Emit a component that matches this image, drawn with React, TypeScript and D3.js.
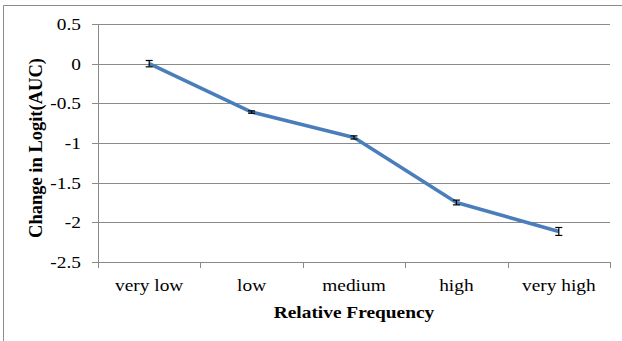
import React from 'react';
import * as d3 from 'd3';

// Chart data
const categories = ['very low', 'low', 'medium', 'high', 'very high'];
const values = [0, -0.61, -0.93, -1.75, -2.115];
const errors = [0.04, 0.015, 0.02, 0.03, 0.05];
const yTicks = [0.5, 0, -0.5, -1, -1.5, -2, -2.5];

const width = 622;
const height = 341;
const margin = { top: 24, right: 12, bottom: 79, left: 98 };
const font = "'Liberation Serif', 'Times New Roman', serif";
// the reference text is a bit wider than it is tall
const stretch = 'scale(1.14,1)';

function App() {
  const innerWidth = width - margin.left - margin.right;
  const innerHeight = height - margin.top - margin.bottom;

  const x = d3.scaleBand<string>().domain(categories).range([0, innerWidth]);
  const y = d3.scaleLinear().domain([-2.5, 0.5]).range([innerHeight, 0]);

  const line = d3.line<number>()
    .x((_, i) => x(categories[i])! + x.bandwidth() / 2)
    .y(d => y(d));

  const txt = { fontFamily: font, fill: '#000' };

  return (
    <svg width={width} height={height} style={{ position: 'absolute', left: 0, top: 0 }}>
      <rect x={0} y={0} width={width} height={height} fill="white" />
      {/* outer chart border */}
      <path d={`M3.5,${height}V5.5H${width}`} fill="none" stroke="#8c8c8c" strokeWidth={1} />
      <g transform={`translate(${margin.left},${margin.top})`}>
        {/* gridlines + y ticks */}
        {yTicks.map(t => (
          <g key={t} transform={`translate(0,${Math.round(y(t)) + 0.5})`}>
            <line x1={-6} x2={innerWidth} stroke="#8a8a8a" strokeWidth={1} />
            <text transform={`translate(-17,0) ${stretch}`} dy="0.35em" textAnchor="end" fontSize={17} style={txt}>{t}</text>
          </g>
        ))}
        {/* y axis line */}
        <line x1={0.5} x2={0.5} y1={0} y2={innerHeight} stroke="#8a8a8a" />
        {/* x ticks */}
        {[...categories.map(c => x(c)!), innerWidth].map((px, i) => (
          <line key={i} x1={Math.round(px) + 0.5} x2={Math.round(px) + 0.5} y1={innerHeight} y2={innerHeight + 6} stroke="#8a8a8a" />
        ))}
        {categories.map(c => (
          <text key={c} transform={`translate(${x(c)! + x.bandwidth() / 2},${innerHeight + 29}) ${stretch}`} textAnchor="middle" fontSize={17} style={txt}>{c}</text>
        ))}
        {/* series line */}
        <path d={line(values)!} fill="none" stroke="#4a7ebb" strokeWidth={3.5} strokeLinejoin="round" />
        {/* error bars */}
        {values.map((v, i) => {
          const cx = x(categories[i])! + x.bandwidth() / 2;
          const y1 = y(v + errors[i]);
          const y2 = y(v - errors[i]);
          return (
            <g key={i} stroke="#000" strokeWidth={1.2}>
              <line x1={cx} x2={cx} y1={y1} y2={y2} />
              <line x1={cx - 3.5} x2={cx + 3.5} y1={y1} y2={y1} />
              <line x1={cx - 3.5} x2={cx + 3.5} y1={y2} y2={y2} />
            </g>
          );
        })}
        {/* axis titles */}
        <text transform={`translate(${innerWidth / 2},${innerHeight + 56}) ${stretch}`} textAnchor="middle" fontSize={17} fontWeight="bold" style={txt}>Relative Frequency</text>
        <text transform={`translate(-56,${innerHeight / 2 + 5}) rotate(-90)`} textAnchor="middle" fontSize={18.5} fontWeight="bold" style={txt}>Change in Logit(AUC)</text>
      </g>
    </svg>
  );
}

export default App;
